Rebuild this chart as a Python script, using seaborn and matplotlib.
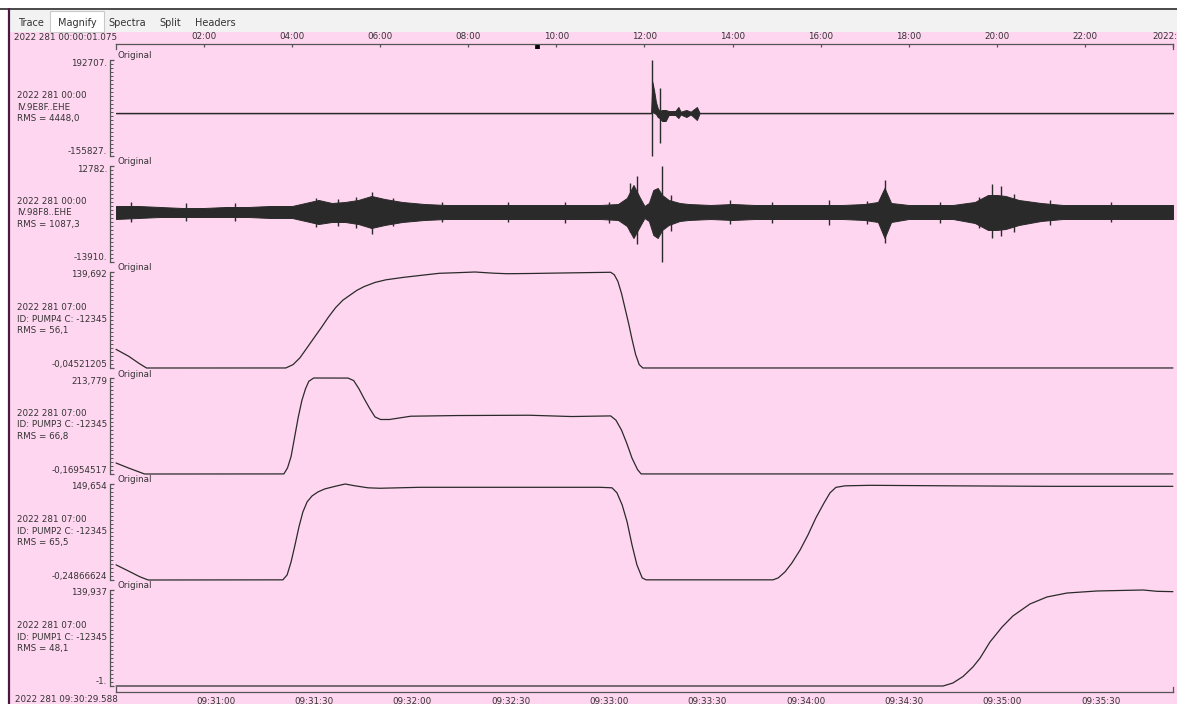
import matplotlib
matplotlib.use("Agg")
import matplotlib.pyplot as plt
from matplotlib.patches import Rectangle
from matplotlib.lines import Line2D
from matplotlib.ticker import LinearLocator
import pandas as pd
import seaborn as sns

# ---------------- data ----------------
# Seismic channel IV.9E8F..EHE : envelope (hours of day, counts)
ch1_hours = [0.0003, 12.15, 12.18, 12.22, 12.26, 12.30, 12.34, 12.40, 12.48, 12.55,
             12.70, 12.77, 12.82, 12.95, 13.05, 13.19, 13.25, 24.0003]
ch1_upper = [1000, 1000, 112800, 80000, 40000, 18400, 7500, 11200, 11200, 7500,
             7500, 22000, 5000, 11200, 5000, 22000, 1000, 1000]
ch1_lower = [-1000, -1000, 3900, 0, -3300, -14200, -17900, -28800, -28800, -7000,
             -7000, -17900, -5000, -14200, -5000, -25000, -1000, -1000]
ch1_spike_hours = [12.17, 12.36]
ch1_spike_top = [192707, 91050]
ch1_spike_bottom = [-155827, -108600]

# Seismic channel IV.98F8..EHE : envelope (hours of day, counts)
ch2_hours = [0.0003, 0.5, 1.0, 1.5, 2.0, 2.5, 3.0, 3.5, 4.0, 4.3, 4.6, 4.9, 5.2, 5.5,
             5.8, 6.1, 6.5, 7.0, 7.5, 8.0, 8.5, 9.0, 9.5, 10.0, 10.5, 11.0, 11.4,
             11.6, 11.75, 11.9, 12.0, 12.1, 12.2, 12.3, 12.4, 12.55, 12.8, 13.0,
             13.5, 14.0, 14.5, 15.0, 15.5, 16.0, 16.5, 17.0, 17.3, 17.45, 17.6,
             18.0, 18.5, 19.0, 19.5, 19.8, 20.0, 20.2, 20.5, 21.0, 21.5, 22.0,
             22.5, 23.0, 23.5, 24.0003]
ch2_upper = [1662, 1662, 1384, 1106, 1106, 1384, 1384, 1662, 1662, 2496, 3330, 2496,
             2774, 3330, 4442, 3608, 2774, 2218, 1940, 1940, 1940, 1940, 1940, 1940,
             1940, 1940, 2218, 3886, 7500, 3886, 1662, 2496, 6110, 6666, 4720, 3330,
             2496, 2218, 1940, 2218, 1940, 1940, 1940, 1940, 1940, 2218, 2774, 6666,
             2496, 1940, 1940, 1940, 2774, 4720, 4720, 4442, 3330, 2496, 1940, 1940,
             1940, 1940, 1940, 1940]
ch2_lower = [-1952, -1674, -1396, -1396, -1396, -1396, -1396, -1674, -1674, -2508,
             -3342, -2786, -2786, -3342, -4454, -3620, -2786, -2230, -1952, -1952,
             -1952, -1952, -1952, -1952, -1952, -1952, -2230, -3898, -7234, -3898,
             -1674, -2508, -6400, -7234, -5010, -3620, -2508, -2230, -1952, -2230,
             -1952, -1952, -1952, -1952, -1952, -2230, -2786, -7234, -2786, -1952,
             -1952, -1952, -3064, -5010, -5010, -4732, -3620, -2508, -1952, -1952,
             -1952, -1952, -1952, -1952]
ch2_spike_hours = [0.35, 1.6, 2.7, 4.55, 5.05, 5.45, 5.82, 6.3, 7.4, 8.9, 10.2, 11.2,
                   11.68, 11.82, 12.39, 12.6, 13.95, 14.9, 16.20, 17.05, 17.45, 18.7,
                   19.6, 19.90, 20.10, 20.4, 21.2, 22.6]
ch2_spike_top = [2774, 2496, 2496, 3886, 3608, 4164, 5554, 3886, 2774, 2774, 2774, 2774,
                 8056, 10002, 12782, 4720, 3330, 2774, 3330, 3052, 8890, 2774,
                 4164, 7778, 7222, 5000, 3330, 2774]
ch2_spike_bottom = [-2786, -2508, -2508, -4176, -3898, -4454, -6122, -3898, -2786,
                    -2786, -3064, -3064, -5566, -8902, -13910, -5288, -3342, -3064,
                    -3620, -3342, -8624, -3064, -4454, -7234, -6678, -5566, -3620,
                    -2786]

# Pump channels (seconds after 09:30:00)
pump4_t = [29.6, 33.4, 36.7, 38.9, 81.4, 83.6, 85.7, 87.9, 90.1, 92.3, 94.4, 96.6,
           98.8, 101.0, 103.1, 105.3, 108.6, 111.9, 117.3, 122.8, 128.2, 133.7, 139.1,
           144.6, 148.9, 155.5, 166.4, 180.5, 181.6, 182.7, 183.8, 184.9, 186.0, 187.0,
           188.1, 189.2, 190.3, 352.0]
pump4_v = [27.1, 17.2, 6.4, -0.04521205, 0.0, 4.9, 14.8, 29.6, 44.5, 59.3, 74.1, 87.9,
           98.7, 106.1, 113.1, 118.5, 124.5, 128.3, 131.9, 134.9, 137.8, 138.7, 139.692,
           138.0, 137.2, 137.5, 138.3, 139.3, 135.7, 126.0, 108.6, 86.4, 64.2, 41.9,
           19.7, 4.9, 0.0, 0.0]

pump3_t = [29.6, 33.4, 38.3, 80.8, 81.9, 83.0, 84.1, 85.2, 86.3, 87.4, 88.4, 89.9,
           100.4, 102.1, 103.7, 105.3, 107.0, 108.6, 110.3, 113.0, 119.5, 133.6, 155.5,
           168.6, 180.5, 182.1, 183.8, 185.4, 187.0, 188.7, 189.8, 352.0]
pump3_v = [24.3, 13.2, -0.16954517, 0.0, 13.2, 38.8, 82.9, 127.0, 163.9, 189.7, 206.4,
           213.779, 213.6, 208.0, 189.7, 167.6, 145.6, 127.0, 121.3, 121.3, 128.6, 130.1,
           130.8, 127.9, 129.3, 119.8, 97.7, 68.4, 35.3, 9.5, 0.0, 0.0]

pump2_t = [29.6, 33.3, 36.9, 39.4, 80.5, 81.8, 83.0, 84.2, 85.4, 86.6, 87.9, 89.4,
           91.2, 93.3, 96.4, 99.5, 102.5, 106.5, 110.1, 122.3, 146.7, 177.2, 180.9,
           182.4, 184.0, 185.5, 187.0, 188.5, 190.1, 191.3, 230.0, 231.6, 233.7, 235.8,
           238.3, 240.7, 243.1, 245.6, 247.4, 249.2, 252.0, 259.6, 284.0, 314.5, 352.0]
pump2_v = [23.4, 14.0, 4.7, -0.24866624, 0.0, 7.8, 28.0, 54.6, 82.7, 106.0, 121.8,
           131.0, 137.3, 142.0, 146.0, 149.654, 146.8, 143.7, 143.0, 144.5, 144.5, 144.5,
           143.7, 136.0, 117.0, 90.6, 54.6, 23.4, 3.1, 0.0, 0.0, 3.0, 12.5, 26.5, 46.8,
           70.3, 96.8, 120.2, 135.8, 144.4, 146.8, 147.6, 146.8, 146.0, 146.0]

pump1_t = [29.6, 281.9, 284.9, 288.0, 291.0, 293.2, 296.2, 299.9, 303.2, 308.4, 313.6,
           319.7, 328.9, 342.9, 347.2, 352.0]
pump1_v = [-1.0, -1.0, 3.4, 13.0, 26.9, 40.1, 63.6, 85.6, 101.8, 119.4, 129.7, 135.5,
           138.5, 139.937, 138.0, 137.5]

# Axis ranges and labels
range_min = [-155827, -13910, -0.04521205, -0.16954517, -0.24866624, -1.0]
range_max = [192707, 12782, 139.692, 213.779, 149.654, 139.937]
max_labels = ["192707.", "12782.", "139,692", "213,779", "149,654", "139,937"]
min_labels = ["-155827.", "-13910.", "-0,04521205", "-0,16954517", "-0,24866624", "-1."]
info_date = ["2022 281 00:00", "2022 281 00:00", "2022 281 07:00",
             "2022 281 07:00", "2022 281 07:00", "2022 281 07:00"]
info_id = ["IV.9E8F..EHE", "IV.98F8..EHE", "ID: PUMP4 C: -12345",
           "ID: PUMP3 C: -12345", "ID: PUMP2 C: -12345", "ID: PUMP1 C: -12345"]
info_rms = ["RMS = 4448,0", "RMS = 1087,3", "RMS = 56,1",
            "RMS = 66,8", "RMS = 65,5", "RMS = 48,1"]

day_ticks = [2, 4, 6, 8, 10, 12, 14, 16, 18, 20, 22]
day_labels = ["02:00", "04:00", "06:00", "08:00", "10:00", "12:00",
              "14:00", "16:00", "18:00", "20:00", "22:00"]
day_start_label = "2022 281 00:00:01.075"
day_end_label = "2022:282"
sec_ticks = [60, 90, 120, 150, 180, 210, 240, 270, 300, 330]
sec_labels = ["09:31:00", "09:31:30", "09:32:00", "09:32:30", "09:33:00",
              "09:33:30", "09:34:00", "09:34:30", "09:35:00", "09:35:30"]
sec_start_label = "2022 281 09:30:29.588"

day_range = (1.075 / 3600, 24 + 1.075 / 3600)
sec_range = (29.588, 352.04)

# ---------------- style ----------------
sns.set_theme(style="white")
plt.rcParams["font.family"] = ["DejaVu Sans"]

W, H = 1177, 704
PINK = "#ffd6f0"
TRACE = "#2a2a2a"
AXC = "#555555"
TXT = "#333333"
FS = 6.3


def fx(x):
    return x / W


def fy(y):
    return 1 - y / H


fig = plt.figure(figsize=(W / 100, H / 100), dpi=100, facecolor="white")

# window chrome: tab bar, borders and the pink canvas
fig.add_artist(Rectangle((fx(10), 0), 1 - fx(10), fy(32), transform=fig.transFigure,
                         facecolor=PINK, edgecolor="none", zorder=-5))
fig.add_artist(Rectangle((fx(9), fy(32)), 1 - fx(9), 22 / H, transform=fig.transFigure,
                         facecolor="#f2f2f3", edgecolor="none", zorder=-5))
fig.add_artist(Rectangle((fx(50), fy(32)), 54 / W, 21 / H, transform=fig.transFigure,
                         facecolor="white", edgecolor="#c9c9c9", linewidth=0.8, zorder=-4))
fig.add_artist(Line2D([0, 1], [fy(9), fy(9)], transform=fig.transFigure,
                      color="#3a3a3a", linewidth=1.3, zorder=-3))
fig.add_artist(Line2D([fx(8.5), fx(8.5)], [0, fy(9)], transform=fig.transFigure,
                      color="#4a1842", linewidth=1.6, zorder=-3))
for name, cx in zip(["Trace", "Magnify", "Spectra", "Split", "Headers"],
                    [31, 77, 127, 170, 215]):
    fig.text(fx(cx), fy(22.5), name, ha="center", va="center", fontsize=7, color=TXT)

# ---------------- panels ----------------
panel_tops = [60, 166, 272, 378, 484, 590]
PH = 96
seismic = [
    (ch1_hours, ch1_upper, ch1_lower, ch1_spike_hours, ch1_spike_top, ch1_spike_bottom),
    (ch2_hours, ch2_upper, ch2_lower, ch2_spike_hours, ch2_spike_top, ch2_spike_bottom),
]
pumps = [(pump4_t, pump4_v), (pump3_t, pump3_v), (pump2_t, pump2_v), (pump1_t, pump1_v)]

for i, top in enumerate(panel_tops):
    ax = fig.add_axes([fx(116), fy(top + PH), 1057 / W, PH / H])
    ax.set_facecolor("none")
    for s in ["top", "right", "bottom"]:
        ax.spines[s].set_visible(False)
    ax.spines["left"].set_position(("outward", 4.3))
    ax.spines["left"].set_color(AXC)
    ax.spines["left"].set_linewidth(0.9)

    if i < 2:
        hrs, up, lo, sh, st, sb = seismic[i]
        ax.fill_between(hrs, lo, up, color=TRACE, linewidth=0.7, clip_on=False)
        ax.vlines(sh, sb, st, color=TRACE, linewidth=1.0, clip_on=False)
        ax.set_xlim(*day_range)
    else:
        t, v = pumps[i - 2]
        df = pd.DataFrame({"time": t, "value": v})
        sns.lineplot(data=df, x="time", y="value", ax=ax, color=TRACE,
                     linewidth=0.9, estimator=None, legend=False)
        for ln in ax.lines:
            ln.set_clip_on(False)
        ax.set_xlim(*sec_range)

    ax.set_ylim(range_min[i], range_max[i])
    ax.set_xlabel("")
    ax.set_ylabel("")
    ax.set_xticks([])
    ax.set_yticks([range_min[i], range_max[i]])
    ax.set_yticklabels(["", ""])
    ax.yaxis.set_minor_locator(LinearLocator(numticks=25))
    ax.tick_params(axis="y", which="major", direction="in", length=3.2, width=0.9,
                   color=AXC, left=True)
    ax.tick_params(axis="y", which="minor", direction="in", length=1.8, width=0.7,
                   color=AXC, left=True)

    # range labels sit just inside the ends of the amplitude axis
    ax.annotate(max_labels[i], xy=(0, 1), xycoords="axes fraction", xytext=(-9, -3),
                textcoords="offset pixels", ha="right", va="center",
                fontsize=FS, color=TXT, annotation_clip=False)
    ax.annotate(min_labels[i], xy=(0, 0), xycoords="axes fraction", xytext=(-9, 4),
                textcoords="offset pixels", ha="right", va="center",
                fontsize=FS, color=TXT, annotation_clip=False)
    ax.annotate("Original", xy=(0, 1), xycoords="axes fraction", xytext=(1, 4),
                textcoords="offset pixels", ha="left", va="center",
                fontsize=FS, color=TXT, annotation_clip=False)

    fig.text(fx(17), fy(top + 35), info_date[i], ha="left", va="center",
             fontsize=FS, color=TXT)
    fig.text(fx(17), fy(top + 47), info_id[i], ha="left", va="center",
             fontsize=FS, color=TXT)
    fig.text(fx(17), fy(top + 59), info_rms[i], ha="left", va="center",
             fontsize=FS, color=TXT)

# ---------------- day time scale (top) ----------------
ax_top = fig.add_axes([fx(116), fy(49), 1057 / W, 5 / H])
ax_top.set_facecolor("none")
ax_top.spines["bottom"].set_visible(False)
for s in ["top", "left", "right"]:
    ax_top.spines[s].set_color(AXC)
    ax_top.spines[s].set_linewidth(0.9)
ax_top.set_xlim(*day_range)
ax_top.set_ylim(0, 1)
ax_top.set_yticks([])
ax_top.xaxis.tick_top()
ax_top.set_xticks(day_ticks + [day_range[1]])
ax_top.set_xticklabels(day_labels + [day_end_label])
ax_top.tick_params(axis="x", direction="in", length=2.2, width=0.9, color=AXC,
                   labelsize=FS, labelcolor=TXT, pad=2.5)
# span of the magnified window on the day scale
win_start = (9 * 3600 + 30 * 60 + sec_range[0]) / 3600
win_end = (9 * 3600 + 30 * 60 + sec_range[1]) / 3600
ax_top.axvspan(win_start, win_end, ymin=0.1, ymax=1.0, color="black", linewidth=0.5)
fig.text(fx(14), fy(38), day_start_label, ha="left", va="center", fontsize=FS, color=TXT)

# ---------------- magnified time scale (bottom) ----------------
ax_bot = fig.add_axes([fx(116), fy(692), 1057 / W, 5 / H])
ax_bot.set_facecolor("none")
ax_bot.spines["top"].set_visible(False)
for s in ["bottom", "left", "right"]:
    ax_bot.spines[s].set_color(AXC)
    ax_bot.spines[s].set_linewidth(0.9)
ax_bot.set_xlim(*sec_range)
ax_bot.set_ylim(0, 1)
ax_bot.set_yticks([])
ax_bot.set_xticks(sec_ticks)
ax_bot.set_xticklabels(sec_labels)
ax_bot.tick_params(axis="x", direction="out", length=2.2, width=0.9, color=AXC,
                   labelsize=FS, labelcolor=TXT, pad=1.5)
fig.text(fx(15), fy(699), sec_start_label, ha="left", va="center", fontsize=FS, color=TXT)

fig.savefig("out.png", dpi=100, facecolor="white")
